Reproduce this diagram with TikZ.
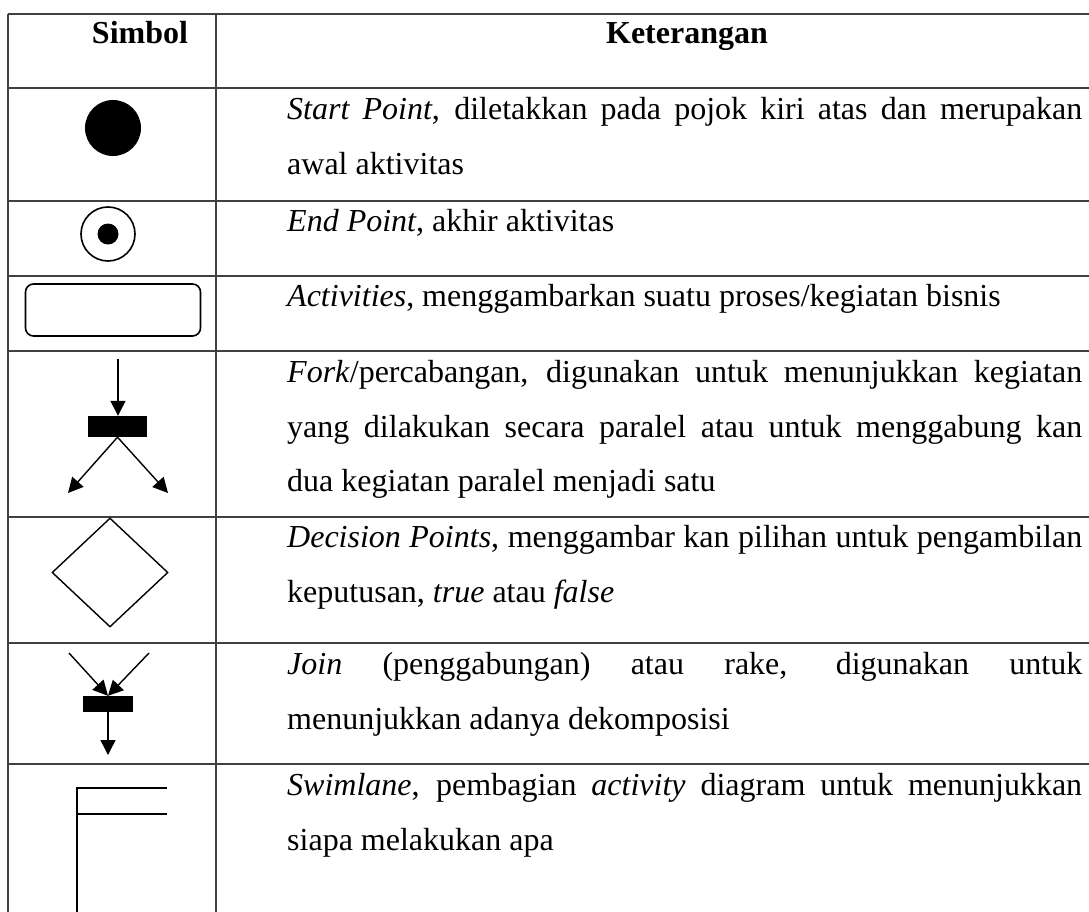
\documentclass[tikz,border=0pt]{standalone}
\usepackage{fontspec}
\setmainfont{Liberation Serif}
\usetikzlibrary{arrows.meta,shapes.geometric}
\newcommand{\jline}[1]{\makebox[795pt][s]{#1}}
\begin{document}
\begin{tikzpicture}[x=1pt,y=-1pt,
  grid/.style={draw=black!75,line width=1.4pt},
  txt/.style={anchor=base west,inner sep=0pt,font=\fontsize{32}{40}\selectfont},
  hdr/.style={anchor=base,inner sep=0pt,font=\fontsize{32}{40}\selectfont\bfseries},
  arr/.style={draw=black,line width=1.4pt,-{Triangle[length=15pt,width=15pt]}},
  bar/.style={fill=black,draw=none}]
\useasboundingbox (0,0) rectangle (1089,912);
% grid
\draw[grid] (8,14) -- (1089,14);
\foreach \yy in {88,201,276,351,517,643,764} {\draw[grid] (8,\yy) -- (1089,\yy);}
\draw[grid] (8,14) -- (8,912);
\draw[grid] (216,14) -- (216,912);
% header
\node[hdr] (h1) at (140,44) {Simbol};
\node[hdr] (h2) at (687,44) {Keterangan};
% text
\node[txt] (t1a) at (287,120) {\jline{\textit{Start Point}, diletakkan pada pojok kiri atas dan merupakan}};
\node[txt] (t1b) at (287,175) {awal aktivitas};
\node[txt] (t2) at (287,231) {\textit{End Point}, akhir aktivitas};
\node[txt] (t3) at (287,306) {\textit{Activities}, menggambarkan suatu proses/kegiatan bisnis};
\node[txt] (t4a) at (287,382) {\jline{\textit{Fork}/percabangan, digunakan untuk menunjukkan kegiatan}};
\node[txt] (t4b) at (287,437) {\jline{yang dilakukan secara paralel atau untuk menggabung kan}};
\node[txt] (t4c) at (287,491) {dua kegiatan paralel menjadi satu};
\node[txt] (t5a) at (287,547) {\jline{\textit{Decision Points}, menggambar kan pilihan untuk pengambilan}};
\node[txt] (t5b) at (287,602) {keputusan, \textit{true} atau \textit{false}};
\node[txt] (t6a) at (287,674) {\jline{\textit{Join} (penggabungan) atau rake, digunakan untuk}};
\node[txt] (t6b) at (287,729) {menunjukkan adanya dekomposisi};
\node[txt] (t7a) at (287,795) {\jline{\textit{Swimlane}, pembagian \textit{activity} diagram untuk menunjukkan}};
\node[txt] (t7b) at (287,850) {siapa melakukan apa};
% start point
\node[circle,fill=black,minimum size=56pt,inner sep=0pt] (start) at (113,128) {};
% end point
\node[circle,draw=black,line width=1.6pt,minimum size=54pt,inner sep=0pt] (endo) at (108,234) {};
\node[circle,fill=black,minimum size=21pt,inner sep=0pt] (endi) at (108,234) {};
% activity
\node[draw=black,line width=1.6pt,rounded corners=8pt,minimum width=175pt,minimum height=52pt,inner sep=0pt] (act) at (113,310) {};
% fork
\coordinate (fkin) at (118,359);
\node[bar,minimum width=59pt,minimum height=21pt,inner sep=0pt] (fbar) at (117.5,426.5) {};
\coordinate (fkl) at (68,493);
\coordinate (fkr) at (168,493);
\draw[arr] (fkin) -- (fkin |- fbar.north);
\draw[arr] (fbar.south) -- (fkl);
\draw[arr] (fbar.south) -- (fkr);
% decision
\node[draw=black,line width=1.4pt,diamond,shape aspect=1,minimum width=116pt,minimum height=109pt,inner sep=0pt] (dec) at (110,572.5) {};
% join
\coordinate (jl) at (69,653);
\coordinate (jr) at (149,653);
\node[bar,minimum width=50pt,minimum height=16pt,inner sep=0pt] (jbar) at (108,704) {};
\coordinate (jout) at (108,755);
\draw[arr] (jl) -- (jbar.north);
\draw[arr] (jr) -- (jbar.north);
\draw[arr] (jbar.south) -- (jout);
% swimlane
\coordinate (sw1) at (77,788);
\coordinate (sw2) at (167,788);
\coordinate (sw3) at (77,814);
\coordinate (sw4) at (167,814);
\coordinate (sw5) at (77,912);
\draw[line width=2.4pt] (sw2) -- (sw1) -- (sw5);
\draw[line width=2.4pt] (sw3) -- (sw4);
\end{tikzpicture}
\end{document}
